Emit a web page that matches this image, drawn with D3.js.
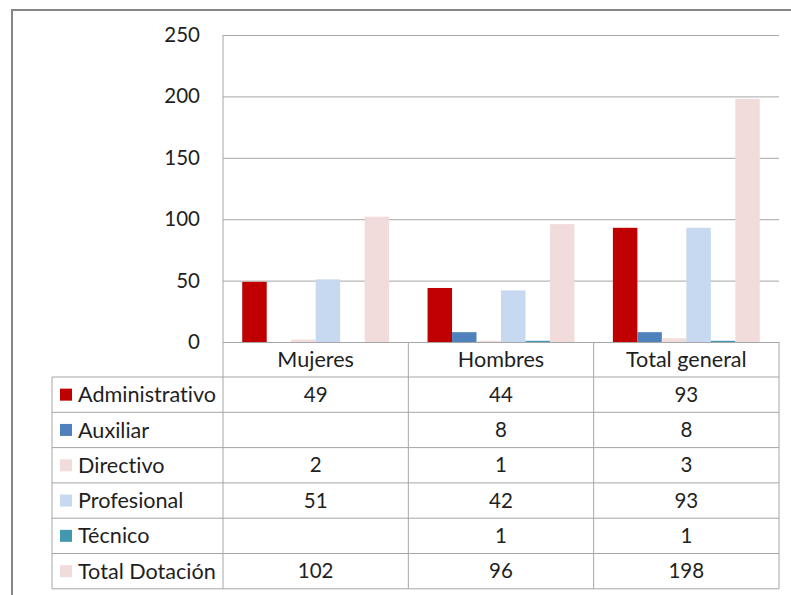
<!DOCTYPE html>
<html>
<head>
<meta charset="utf-8">
<script src="https://cdn.jsdelivr.net/npm/d3@7"></script>
<style>
  body { margin: 0; background: #fff; }
  text { font-family: Lato, "Open Sans", sans-serif; fill: #1f1f1f; font-variant-ligatures: none; font-feature-settings: "liga" 0; }
</style>
</head>
<body>
<div id="chart"></div>
<script>
// Data
const categories = ["Mujeres", "Hombres", "Total general"];
const seriesNames = ["Administrativo", "Auxiliar", "Directivo", "Profesional", "Técnico", "Total Dotación"];
const administrativo = [49, 44, 93];
const auxiliar = [null, 8, 8];
const directivo = [2, 1, 3];
const profesional = [51, 42, 93];
const tecnico = [null, 1, 1];
const totalDotacion = [102, 96, 198];
const yTicks = [0, 50, 100, 150, 200, 250];
const colors = ["#C00000", "#4F81BD", "#F2DCDB", "#C6D9F1", "#4298AE", "#F2DCDB"];

const seriesValues = [administrativo, auxiliar, directivo, profesional, tecnico, totalDotacion];

function createChart() {
    const W = 791, H = 595;
    const plot = { left: 223, right: 779, top: 35, bottom: 342 };
    const table = { left: 52, top: 377, rowH: 35.3 };
    const numSize = 20.5;   // digits
    const wordSize = 21.6;  // labels

    const svg = d3.select("#chart")
        .append("svg")
        .attr("width", W)
        .attr("height", H);

    // Outer chart frame (runs off the right and bottom edges)
    svg.append("rect")
        .attr("x", 12)
        .attr("y", 10)
        .attr("width", W + 10)
        .attr("height", H + 10)
        .attr("fill", "none")
        .attr("stroke", "#868686")
        .attr("stroke-width", 2);

    // Scales
    const x0 = d3.scaleBand()
        .domain(categories)
        .range([plot.left, plot.right])
        .padding(0);

    const x1 = d3.scaleBand()
        .domain(seriesNames)
        .range([0, x0.bandwidth()])
        .paddingInner(0)
        .paddingOuter(0.785);

    const y = d3.scaleLinear()
        .domain([0, 250])
        .range([plot.bottom, plot.top]);

    // Y axis with gridlines
    const yAxis = svg.append("g")
        .attr("transform", `translate(${plot.left},0)`)
        .call(d3.axisLeft(y).tickValues(yTicks).tickSize(-(plot.right - plot.left)).tickPadding(23));
    yAxis.select(".domain").remove();
    yAxis.selectAll("line").attr("stroke", "#a6a6a6");
    yAxis.selectAll("text")
        .style("font-size", numSize + "px")
        .attr("font-family", null)
        .attr("fill", null);

    // Vertical axis line down through the table
    svg.append("line")
        .attr("x1", plot.left).attr("x2", plot.left)
        .attr("y1", plot.top).attr("y2", table.top + table.rowH * seriesNames.length)
        .attr("stroke", "#a6a6a6");

    // Bars
    seriesNames.forEach((name, si) => {
        svg.append("g")
            .attr("fill", colors[si])
            .selectAll("rect")
            .data(categories.map((c, ci) => ({ cat: c, value: seriesValues[si][ci] })).filter(d => d.value != null))
            .enter().append("rect")
            .attr("x", d => x0(d.cat) + x1(name))
            .attr("y", d => y(d.value))
            .attr("width", x1.bandwidth())
            .attr("height", d => y(0) - y(d.value));
    });

    // Data table grid
    const tableBottom = table.top + table.rowH * seriesNames.length;
    const grid = svg.append("g").attr("stroke", "#a6a6a6").attr("fill", "none");

    // Category dividers and right edge (header row + table)
    categories.forEach(c => {
        grid.append("line")
            .attr("x1", x0(c) + x0.bandwidth()).attr("x2", x0(c) + x0.bandwidth())
            .attr("y1", plot.bottom).attr("y2", tableBottom);
    });
    // Left edge of the label column
    grid.append("line")
        .attr("x1", table.left).attr("x2", table.left)
        .attr("y1", table.top).attr("y2", tableBottom);
    // Horizontal row lines
    d3.range(seriesNames.length + 1).forEach(i => {
        const yy = table.top + table.rowH * i;
        grid.append("line")
            .attr("x1", table.left).attr("x2", plot.right)
            .attr("y1", yy).attr("y2", yy);
    });

    // Header labels
    svg.selectAll(".cat-label")
        .data(categories)
        .enter().append("text")
        .attr("class", "cat-label")
        .attr("x", d => x0(d) + x0.bandwidth() / 2)
        .attr("y", (plot.bottom + table.top) / 2)
        .attr("dy", "0.35em")
        .attr("text-anchor", "middle")
        .style("font-size", wordSize + "px")
        .text(d => d);

    // Rows: legend key, series name, values
    seriesNames.forEach((name, si) => {
        const cy = table.top + table.rowH * (si + 0.5);
        svg.append("rect")
            .attr("x", 60)
            .attr("y", cy - 6)
            .attr("width", 12)
            .attr("height", 12)
            .attr("fill", colors[si]);
        svg.append("text")
            .attr("x", 78)
            .attr("y", cy)
            .attr("dy", "0.35em")
            .style("font-size", wordSize + "px")
            .text(name);
        categories.forEach((c, ci) => {
            const v = seriesValues[si][ci];
            if (v == null) return;
            svg.append("text")
                .attr("x", x0(c) + x0.bandwidth() / 2)
                .attr("y", cy)
                .attr("dy", "0.35em")
                .attr("text-anchor", "middle")
                .style("font-size", numSize + "px")
                .text(v);
        });
    });
}

createChart();
</script>
</body>
</html>
